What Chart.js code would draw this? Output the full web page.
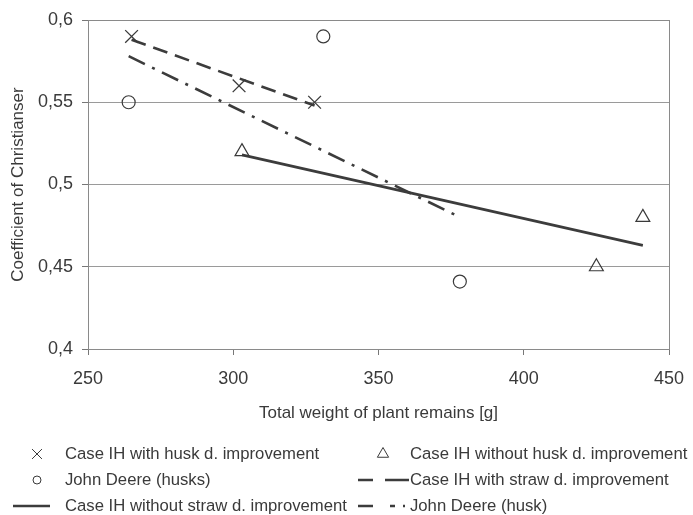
<!DOCTYPE html>
<html>
<head>
<meta charset="utf-8">
<script src="https://cdn.jsdelivr.net/npm/chart.js@4"></script>
<style>
  html, body { margin: 0; padding: 0; background: #fff; }
  #wrap { width: 693px; height: 515px; position: relative; }
</style>
</head>
<body>
<div id="wrap"><canvas id="c" width="693" height="515"></canvas></div>
<script>
// ---- data ----
const xTickValues = [250, 300, 350, 400, 450];
const xTickLabels = ['250', '300', '350', '400', '450'];
const yTickValues = [0.4, 0.45, 0.5, 0.55, 0.6];
const yTickLabels = ['0,4', '0,45', '0,5', '0,55', '0,6'];

const caseWithHuskX = [265, 302, 328];
const caseWithHuskY = [0.59, 0.56, 0.55];

const caseWithoutHuskX = [303, 425, 441];
const caseWithoutHuskY = [0.52, 0.45, 0.48];

const johnDeereHusksX = [264, 331, 378];
const johnDeereHusksY = [0.55, 0.59, 0.441];

const caseWithStrawX = [265, 328];
const caseWithStrawY = [0.588, 0.548];

const caseWithoutStrawX = [303, 441];
const caseWithoutStrawY = [0.518, 0.463];

const johnDeereHuskX = [264, 377];
const johnDeereHuskY = [0.578, 0.481];

const labels = [
  'Case IH with husk d. improvement',
  'Case IH without husk d. improvement',
  'John Deere (husks)',
  'Case IH with straw d. improvement',
  'Case IH without straw d. improvement',
  'John Deere (husk)'
];

const pts = (xs, ys) => xs.map((x, i) => ({ x: x, y: ys[i] }));

const ink = '#3a3a3a';
const lineInk = '#3c3c3c';
const FONT = "'Liberation Sans', Arial, sans-serif";

const datasets = [
  { label: labels[0], data: pts(caseWithHuskX, caseWithHuskY), showLine: false,
    pointStyle: 'crossRot', pointRadius: 9, pointBorderWidth: 1.3,
    borderColor: ink, backgroundColor: 'transparent', legendDash: null },
  { label: labels[1], data: pts(caseWithoutHuskX, caseWithoutHuskY), showLine: false,
    pointStyle: 'triangle', pointRadius: 8, pointBorderWidth: 1.2,
    borderColor: ink, backgroundColor: 'transparent' },
  { label: labels[2], data: pts(johnDeereHusksX, johnDeereHusksY), showLine: false,
    pointStyle: 'circle', pointRadius: 6.5, pointBorderWidth: 1.2,
    borderColor: ink, backgroundColor: 'transparent' },
  { label: labels[3], data: pts(caseWithStrawX, caseWithStrawY), showLine: true,
    pointRadius: 0, borderWidth: 2.6, borderColor: lineInk, borderDash: [15, 8],
    backgroundColor: 'transparent', legendDash: [15, 12, 25, 100] },
  { label: labels[4], data: pts(caseWithoutStrawX, caseWithoutStrawY), showLine: true,
    pointRadius: 0, borderWidth: 2.6, borderColor: lineInk,
    backgroundColor: 'transparent', legendDash: [] },
  { label: labels[5], data: pts(johnDeereHuskX, johnDeereHuskY), showLine: true,
    pointRadius: 0, borderWidth: 2.6, borderColor: lineInk, borderDash: [18, 8, 3, 8],
    backgroundColor: 'transparent', legendDash: [15, 17, 5, 8, 2, 100] }
];

// custom legend drawn below the chart
const legendPlugin = {
  id: 'bottomLegend',
  afterDraw(chart) {
    const ctx = chart.ctx;
    const ds = chart.data.datasets;
    const rows = [454, 480, 506];
    const items = [
      { i: 0, col: 0, row: 0 }, { i: 1, col: 1, row: 0 },
      { i: 2, col: 0, row: 1 }, { i: 3, col: 1, row: 1 },
      { i: 4, col: 0, row: 2 }, { i: 5, col: 1, row: 2 }
    ];
    const cols = [
      { symC: 37, lineA: 13, lineB: 50, text: 65 },
      { symC: 383, lineA: 358, lineB: 409, text: 410 }
    ];
    ctx.save();
    items.forEach(it => {
      const d = ds[it.i];
      const c = cols[it.col];
      const y = rows[it.row];
      ctx.strokeStyle = ink;
      if (d.showLine) {
        ctx.lineWidth = 2.6;
        ctx.strokeStyle = lineInk;
        ctx.setLineDash(d.legendDash || []);
        ctx.beginPath();
        ctx.moveTo(c.lineA, y);
        ctx.lineTo(c.lineB, y);
        ctx.stroke();
        ctx.setLineDash([]);
      } else {
        ctx.lineWidth = 1;
        ctx.fillStyle = '#ffffff';
        let r = 6.5;
        if (d.pointStyle === 'circle') r = 4;
        if (d.pointStyle === 'crossRot') r = 7;
        Chart.helpers.drawPoint(ctx, { pointStyle: d.pointStyle, radius: r, rotation: 0, borderWidth: 1 }, c.symC, y);
      }
      ctx.fillStyle = ink;
      ctx.font = '16.7px ' + FONT;
      ctx.textBaseline = 'middle';
      ctx.textAlign = 'left';
      ctx.fillText(d.label, c.text, y);
    });
    ctx.restore();
  }
};

const borderPlugin = {
  id: 'plotBorder',
  beforeDatasetsDraw(chart) {
    const a = chart.chartArea;
    const ctx = chart.ctx;
    ctx.save();
    ctx.strokeStyle = '#8a8a8a';
    ctx.lineWidth = 1;
    ctx.strokeRect(a.left + 0.5, a.top + 0.5, a.right - a.left, a.bottom - a.top);
    ctx.restore();
  }
};

new Chart(document.getElementById('c'), {
  type: 'scatter',
  data: { datasets: datasets },
  plugins: [legendPlugin, borderPlugin],
  options: {
    responsive: false,
    animation: false,
    devicePixelRatio: 1,
    layout: { padding: { left: 0, top: 20, right: 24, bottom: 91 } },
    plugins: { legend: { display: false }, tooltip: { enabled: false } },
    scales: {
      x: {
        type: 'linear', min: 250, max: 450,
        afterBuildTicks: s => { s.ticks = xTickValues.map(v => ({ value: v })); },
        afterFit: s => { s.height = 75; s.paddingRight = 0; s.paddingLeft = 0; },
        ticks: { callback: (v, i) => xTickLabels[i], color: ink,
          font: { family: FONT, size: 18 }, padding: 13, maxRotation: 0 },
        grid: { color: 'transparent', tickColor: '#777', tickLength: 6, drawOnChartArea: false },
        border: { display: true, color: '#777', width: 1 },
        title: { display: true, text: 'Total weight of plant remains [g]', color: ink,
          font: { family: FONT, size: 17 }, padding: { top: 0, bottom: 0 } }
      },
      y: {
        type: 'linear', min: 0.4, max: 0.6,
        afterBuildTicks: s => { s.ticks = yTickValues.map(v => ({ value: v })); },
        afterFit: s => { s.width = 88; },
        ticks: { callback: (v, i) => yTickLabels[i], color: ink,
          font: { family: FONT, size: 18 }, padding: 9 },
        grid: { color: '#9a9a9a', tickColor: '#777', tickLength: 6, lineWidth: 1 },
        border: { display: true, color: '#777', width: 1 },
        title: { display: true, text: 'Coefficient of Christianser', color: ink,
          font: { family: FONT, size: 17 }, padding: { top: 8, bottom: 0 } }
      }
    }
  }
});
</script>
</body>
</html>
